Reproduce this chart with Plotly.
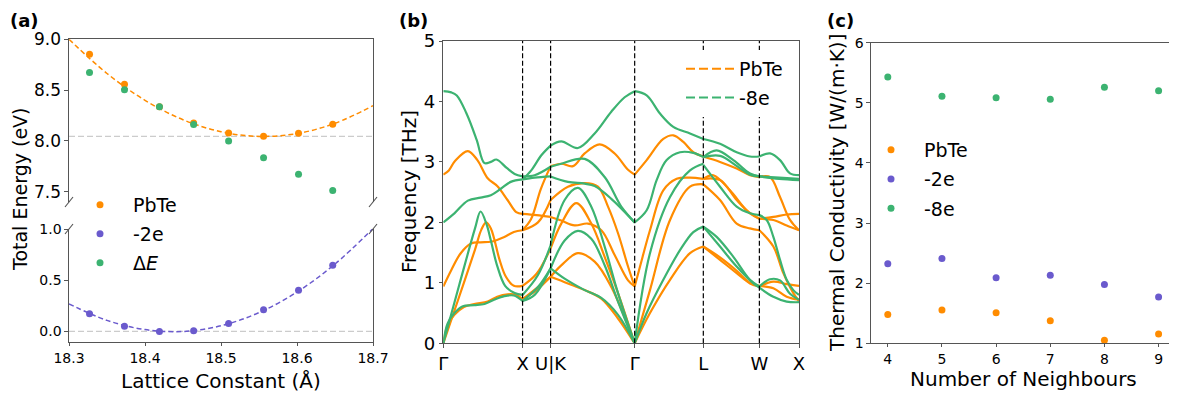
import plotly.graph_objects as go

# page is 1177x396; the browser body keeps its default 8px margin
PAGE_W, PAGE_H, BODY = 1177, 396, 8
W, H = PAGE_W - BODY, PAGE_H - BODY
ORANGE = "#ff8c00"
PURPLE = "#6a5acd"
GREEN = "#3cb371"
SPINE = "#555555"
FONT = "DejaVu Sans"

# ---------------- Panel (a): total energy vs lattice constant ----------------
LATTICE = [18.327, 18.373, 18.419, 18.464, 18.510, 18.556, 18.602, 18.647]
E_PBTE = [8.852, 8.559, 8.336, 8.178, 8.079, 8.046, 8.076, 8.164]
E_DELTA = [8.674, 8.503, 8.336, 8.161, 8.000, 7.836, 7.674, 7.513]
E_2E = [0.173, 0.052, 0.000, 0.007, 0.078, 0.212, 0.402, 0.647]
FIT_X = [18.30, 18.35, 18.40, 18.45, 18.50, 18.55, 18.60, 18.65, 18.70]
FIT_PBTE = [9.000, 8.664, 8.400, 8.209, 8.091, 8.045, 8.073, 8.174, 8.347]
FIT_2E = [0.269, 0.108, 0.018, 0.000, 0.056, 0.184, 0.385, 0.658, 1.004]
E_MIN_PBTE = 8.045
E_MIN_2E = 0.0

# ---------------- Panel (b): phonon band structure ----------------
HS_LABELS = ["Γ", "X", "U|K", "Γ", "L", "W", "X"]
HS_K = [0.0, 1.0, 1.3536, 2.4142, 3.2802, 3.9873, 4.4873]
SEGMENTS = [(0, 1), (1, 2), (2, 3), (3, 4), (4, 5), (5, 6)]

# each segment: list of bands; each band: (fraction along segment, THz)
BANDS_PBTE = [
    [  # Γ-X
        [(0, 2.79), (0.07, 2.86), (0.15, 3.02), (0.31, 3.18), (0.43, 3.03), (0.56, 2.73), (0.68, 2.60), (0.81, 2.37), (0.92, 2.17), (1, 2.14)],
        [(0, 0.94), (0.1, 1.21), (0.22, 1.49), (0.35, 1.65), (0.47, 1.67), (0.6, 1.68), (0.77, 1.76), (0.89, 1.84), (1, 1.87)],
        [(0, 0.0), (0.2, 0.77), (0.4, 1.55), (0.48, 1.88), (0.54, 2.0), (0.6, 1.9), (0.71, 1.38), (0.79, 1.10), (0.89, 0.95), (1, 0.95)],
        [(0, 0.0), (0.055, 0.30), (0.14, 0.47), (0.26, 0.60), (0.39, 0.65), (0.56, 0.69), (0.68, 0.77), (0.81, 0.81), (0.92, 0.80), (1, 0.73)],
    ],
    [  # X-U
        [(0, 2.14), (0.5, 2.12), (1, 2.09)],
        [(0, 1.87), (0.3, 2.05), (0.65, 2.55), (1, 2.93)],
        [(0, 1.87), (0.55, 2.0), (1, 2.37)],
        [(0, 0.95), (0.5, 1.15), (1, 1.57)],
        [(0, 0.73), (0.5, 0.88), (1, 1.10)],
        [(0, 0.73), (0.55, 0.93), (1, 1.10)],
    ],
    [  # K-Γ
        [(0, 2.93), (0.127, 2.97), (0.266, 2.93), (0.405, 3.14), (0.583, 3.29), (0.762, 3.14), (0.921, 2.87), (1, 2.79)],
        [(0, 2.09), (0.127, 2.03), (0.286, 1.95), (0.444, 1.98), (0.603, 1.87), (0.762, 1.46), (0.921, 1.04), (1, 0.94)],
        [(0, 2.37), (0.206, 2.59), (0.405, 2.65), (0.563, 2.59), (0.683, 2.26), (0.802, 1.82), (0.921, 1.27), (1, 0.94)],
        [(0, 1.57), (0.127, 1.98), (0.306, 2.32), (0.484, 1.98), (0.643, 1.43), (0.802, 0.83), (1, 0.0)],
        [(0, 1.10), (0.127, 1.29), (0.325, 1.49), (0.524, 1.35), (0.722, 0.93), (1, 0.0)],
        [(0, 1.10), (0.206, 0.99), (0.405, 0.88), (0.603, 0.74), (0.802, 0.41), (1, 0.0)],
    ],
    [  # Γ-L
        [(0, 2.79), (0.175, 3.03), (0.417, 3.38), (0.563, 3.44), (0.709, 3.33), (0.854, 3.16), (1, 3.09)],
        [(0, 0.94), (0.078, 1.27), (0.223, 1.87), (0.417, 2.53), (0.612, 2.72), (0.806, 2.74), (1, 2.72)],
        [(0, 0.0), (0.223, 0.88), (0.515, 2.04), (0.806, 2.59), (1, 2.63)],
        [(0, 0.0), (0.223, 0.50), (0.515, 1.05), (0.806, 1.49), (1, 1.60)],
    ],
    [  # L-W
        [(0, 3.09), (0.298, 3.00), (0.595, 2.89), (0.833, 2.78), (1, 2.75)],
        [(0, 2.72), (0.179, 2.78), (0.476, 2.53), (0.774, 2.20), (1, 2.06)],
        [(0, 2.72), (0.298, 2.70), (0.595, 2.37), (0.833, 2.15), (1, 2.06)],
        [(0, 2.63), (0.298, 2.37), (0.595, 1.98), (0.833, 1.90), (1, 1.87)],
        [(0, 1.60), (0.298, 1.38), (0.595, 1.16), (0.833, 0.99), (1, 0.94)],
        [(0, 1.60), (0.298, 1.42), (0.595, 1.20), (0.833, 1.00), (1, 0.95)],
    ],
    [  # W-X
        [(0, 2.75), (0.269, 2.75), (0.521, 2.42), (0.773, 2.04), (1, 1.87)],
        [(0, 2.06), (0.353, 2.09), (0.689, 2.13), (1, 2.14)],
        [(0, 2.06), (0.353, 2.04), (0.689, 1.95), (1, 1.87)],
        [(0, 1.87), (0.353, 1.60), (0.605, 1.16), (0.857, 0.83), (1, 0.70)],
        [(0, 0.94), (0.353, 1.02), (0.689, 0.98), (1, 0.95)],
        [(0, 0.95), (0.353, 0.91), (0.689, 0.77), (1, 0.72)],
    ],
]

BANDS_8E = [
    [  # Γ-X
        [(0, 4.17), (0.1, 4.15), (0.17, 4.10), (0.29, 3.81), (0.42, 3.37), (0.52, 2.98), (0.6, 3.00), (0.67, 3.04), (0.8, 2.90), (0.9, 2.80), (1, 2.76)],
        [(0, 2.00), (0.14, 2.15), (0.31, 2.36), (0.47, 2.41), (0.6, 2.45), (0.73, 2.56), (0.85, 2.67), (1, 2.71)],
        [(0, 0.0), (0.2, 0.96), (0.4, 1.90), (0.47, 2.18), (0.545, 1.97), (0.6, 1.70), (0.68, 1.28), (0.78, 0.95), (0.9, 0.83), (1, 0.80)],
        [(0, 0.0), (0.055, 0.33), (0.14, 0.50), (0.24, 0.61), (0.39, 0.63), (0.52, 0.65), (0.64, 0.72), (0.77, 0.78), (0.89, 0.79), (1, 0.70)],
    ],
    [  # X-U
        [(0, 2.71), (0.31, 2.86), (0.67, 3.11), (1, 3.27)],
        [(0, 2.76), (0.43, 2.78), (1, 2.92)],
        [(0, 2.71), (0.43, 2.74), (1, 2.76)],
        [(0, 0.80), (0.55, 1.13), (1, 1.62)],
        [(0, 0.70), (0.43, 0.80), (1, 1.24)],
        [(0, 0.70), (0.55, 0.93), (1, 1.24)],
    ],
    [  # K-Γ
        [(0, 3.27), (0.127, 3.34), (0.325, 3.23), (0.524, 3.47), (0.722, 3.83), (0.881, 4.07), (1, 4.17)],
        [(0, 2.92), (0.127, 2.97), (0.405, 3.05), (0.643, 2.75), (0.841, 2.26), (1, 2.00)],
        [(0, 2.76), (0.206, 2.67), (0.405, 2.64), (0.524, 2.60), (0.722, 2.39), (1, 2.00)],
        [(0, 1.62), (0.167, 2.37), (0.325, 2.57), (0.484, 2.26), (0.643, 1.60), (0.802, 0.83), (1, 0.0)],
        [(0, 1.24), (0.167, 1.70), (0.325, 1.86), (0.484, 1.73), (0.643, 1.29), (0.802, 0.69), (1, 0.0)],
        [(0, 1.24), (0.167, 1.07), (0.405, 0.88), (0.603, 0.75), (0.802, 0.47), (1, 0.0)],
    ],
    [  # Γ-L
        [(0, 4.17), (0.175, 4.10), (0.369, 3.80), (0.563, 3.58), (0.806, 3.47), (1, 3.38)],
        [(0, 2.00), (0.175, 2.20), (0.32, 2.70), (0.466, 3.03), (0.66, 3.16), (0.854, 3.15), (1, 3.08)],
        [(0, 0.0), (0.223, 1.49), (0.515, 2.42), (0.806, 2.86), (1, 2.97)],
        [(0, 0.0), (0.175, 0.50), (0.417, 1.05), (0.66, 1.54), (0.854, 1.84), (1, 1.93)],
    ],
    [  # L-W
        [(0, 3.38), (0.298, 3.30), (0.595, 3.16), (0.833, 3.09), (1, 3.09)],
        [(0, 3.08), (0.238, 3.19), (0.536, 3.03), (0.833, 2.81), (1, 2.76)],
        [(0, 3.08), (0.3, 3.10), (0.6, 2.93), (0.833, 2.79), (1, 2.76)],
        [(0, 2.95), (0.298, 2.59), (0.595, 2.26), (0.833, 2.15), (1, 2.12)],
        [(0, 1.93), (0.238, 1.76), (0.536, 1.43), (0.833, 1.05), (1, 0.94)],
        [(0, 1.93), (0.298, 1.60), (0.595, 1.27), (0.893, 0.99), (1, 0.92)],
    ],
    [  # W-X
        [(0, 3.09), (0.269, 3.14), (0.521, 3.03), (0.773, 2.81), (1, 2.78)],
        [(0, 2.76), (0.5, 2.74), (1, 2.72)],
        [(0, 2.76), (0.5, 2.72), (1, 2.70)],
        [(0, 2.12), (0.185, 2.04), (0.353, 1.76), (0.521, 1.38), (0.689, 1.05), (0.857, 0.88), (1, 0.80)],
        [(0, 0.94), (0.269, 1.06), (0.521, 1.04), (0.773, 0.82), (1, 0.72)],
        [(0, 0.92), (0.353, 0.77), (0.689, 0.69), (1, 0.68)],
    ],
]

# ---------------- Panel (c): thermal conductivity ----------------
NEIGHBOURS = [4, 5, 6, 7, 8, 9]
KAPPA_PBTE = [1.48, 1.555, 1.51, 1.377, 1.05, 1.155]
KAPPA_2E = [2.325, 2.41, 2.09, 2.13, 1.98, 1.77]
KAPPA_8E = [5.43, 5.11, 5.085, 5.06, 5.26, 5.20]


def band_xy(bands):
    xs, ys = [], []
    for (a, b), seg in zip(SEGMENTS, bands):
        k0, k1 = HS_K[a], HS_K[b]
        for band in seg:
            for t, f in band:
                xs.append(k0 + t * (k1 - k0))
                ys.append(f)
            xs.append(None)
            ys.append(None)
    return xs, ys


fig = go.Figure()
MS = 7

# ---- (a) top ----
fig.add_trace(go.Scatter(x=FIT_X, y=FIT_PBTE, mode="lines", line=dict(color=ORANGE, width=1.5, dash="5px,3px", shape="spline"),
                         xaxis="x2", yaxis="y2", showlegend=False, hoverinfo="skip"))
fig.add_trace(go.Scatter(x=LATTICE, y=E_PBTE, mode="markers", marker=dict(color=ORANGE, size=MS), name="PbTe",
                         xaxis="x2", yaxis="y2", legend="legend", legendgroup="a1"))
fig.add_trace(go.Scatter(x=LATTICE, y=E_DELTA, mode="markers", marker=dict(color=GREEN, size=MS), name="Δ<i>E</i>",
                         xaxis="x2", yaxis="y2", showlegend=False))
# ---- (a) bottom ----
fig.add_trace(go.Scatter(x=FIT_X, y=FIT_2E, mode="lines", line=dict(color=PURPLE, width=1.5, dash="5px,3px", shape="spline"),
                         xaxis="x", yaxis="y", showlegend=False, hoverinfo="skip"))
fig.add_trace(go.Scatter(x=LATTICE, y=E_2E, mode="markers", marker=dict(color=PURPLE, size=MS), name="-2e",
                         xaxis="x", yaxis="y", legend="legend", legendgroup="a2"))
fig.add_trace(go.Scatter(x=[None], y=[None], mode="markers", marker=dict(color=GREEN, size=MS), name="Δ<i>E</i>",
                         xaxis="x", yaxis="y", legend="legend", legendgroup="a3"))

# ---- (b) ----
for bands, col in ((BANDS_PBTE, ORANGE), (BANDS_8E, GREEN)):
    bx, by = band_xy(bands)
    fig.add_trace(go.Scatter(x=bx, y=by, mode="lines", line=dict(color=col, width=2.2, shape="spline", smoothing=1.0),
                             connectgaps=False, xaxis="x3", yaxis="y3", showlegend=False, hoverinfo="skip"))
fig.add_trace(go.Scatter(x=[None], y=[None], mode="lines", line=dict(color=ORANGE, width=2, dash="9px,4px"), name="PbTe",
                         xaxis="x3", yaxis="y3", legend="legend2", legendgroup="b1"))
fig.add_trace(go.Scatter(x=[None], y=[None], mode="lines", line=dict(color=GREEN, width=2, dash="9px,4px"), name="-8e",
                         xaxis="x3", yaxis="y3", legend="legend2", legendgroup="b2"))

# ---- (c) ----
for vals, col, nm, g in ((KAPPA_PBTE, ORANGE, "PbTe", "c1"), (KAPPA_2E, PURPLE, "-2e", "c2"), (KAPPA_8E, GREEN, "-8e", "c3")):
    fig.add_trace(go.Scatter(x=NEIGHBOURS, y=vals, mode="markers", marker=dict(color=col, size=MS), name=nm,
                             xaxis="x4", yaxis="y4", legend="legend3", legendgroup=g))

# page-pixel -> paper fraction
px = lambda v: (v - BODY) / W
py = lambda v: 1 - (v - BODY) / H

common_ax = dict(showgrid=False, zeroline=False, showline=True, linecolor=SPINE, linewidth=1.2,
                 ticks="outside", ticklen=3.5, tickwidth=1.2, tickcolor=SPINE, automargin=False,
                 tickfont=dict(family=FONT, size=14, color="black"))

A_X = [px(69), px(373)]
fig.update_layout(
    width=W, height=H, margin=dict(l=0, r=0, t=0, b=0, pad=0, autoexpand=False),
    paper_bgcolor="white", plot_bgcolor="white",
    font=dict(family=FONT, color="black"),
    xaxis=dict(common_ax, domain=A_X, anchor="y", range=[18.3, 18.7], tickvals=[18.3, 18.4, 18.5, 18.6, 18.7],
               tickformat=".1f"),
    yaxis=dict(common_ax, domain=[py(341.7), py(229)], anchor="x", range=[-0.1, 1.0], tickvals=[0, 0.5, 1.0],
               tickformat=".1f", mirror=True),
    xaxis2=dict(common_ax, domain=A_X, anchor="y2", side="top", range=[18.3, 18.7], ticks="", showticklabels=False),
    yaxis2=dict(common_ax, domain=[py(202), py(39.3)], anchor="x2", range=[7.4, 9.0], tickvals=[7.5, 8.0, 8.5, 9.0],
                tickformat=".1f", mirror=True, tickfont=dict(family=FONT, size=17, color="black")),
    xaxis3=dict(common_ax, domain=[px(443.3), px(799)], anchor="y3", range=[HS_K[0], HS_K[-1]], tickvals=HS_K,
                ticktext=HS_LABELS, mirror=True, tickfont=dict(family=FONT, size=18, color="black")),
    yaxis3=dict(common_ax, domain=[py(343.3), py(41)], anchor="x3", range=[0, 5], dtick=1, mirror=True,
                tickfont=dict(family=FONT, size=18, color="black")),
    xaxis4=dict(common_ax, domain=[px(871), px(1174.3)], anchor="y4", range=[3.69, 9.29], dtick=1, mirror=True,
                ticklen=3),
    yaxis4=dict(common_ax, domain=[py(343.3), py(42.7)], anchor="x4", range=[1, 6], dtick=1, mirror=True),
    legend=dict(x=px(67), y=py(186), xanchor="left", yanchor="top", font=dict(family=FONT, size=19),
                bgcolor="rgba(0,0,0,0)", tracegroupgap=1.2, itemwidth=56),
    legend2=dict(x=px(681), y=py(50), xanchor="left", yanchor="top", font=dict(family=FONT, size=19),
                 bgcolor="white", tracegroupgap=1, itemwidth=48),
    legend3=dict(x=px(858), y=py(131), xanchor="left", yanchor="top", font=dict(family=FONT, size=19),
                 bgcolor="rgba(0,0,0,0)", tracegroupgap=1.5, itemwidth=56),
)

shapes = []
# grey reference lines
shapes.append(dict(type="line", xref="x2 domain", yref="y2", x0=0, x1=1, y0=E_MIN_PBTE, y1=E_MIN_PBTE,
                   line=dict(color="#cccccc", width=1.2, dash="6px,3px"), layer="below"))
shapes.append(dict(type="line", xref="x domain", yref="y", x0=0, x1=1, y0=E_MIN_2E, y1=E_MIN_2E,
                   line=dict(color="#cccccc", width=1.2, dash="6px,3px"), layer="below"))
# axis break marks
for xx in (69, 373):
    for yy in (202, 229):
        shapes.append(dict(type="line", xref="paper", yref="paper", x0=px(xx - 4), x1=px(xx + 4),
                           y0=py(yy + 5), y1=py(yy - 5), line=dict(color=SPINE, width=1.2)))
# high-symmetry vertical lines
for k in HS_K[1:-1]:
    shapes.append(dict(type="line", xref="x3", yref="y3 domain", x0=k, x1=k, y0=0, y1=1,
                       line=dict(color="black", width=1.2, dash="5px,2.5px"), layer="above"))
fig.update_layout(shapes=shapes)

ann = []
for lbl, xx in (("(a)", 8), ("(b)", 397), ("(c)", 825)):
    ann.append(dict(text=f"<b>{lbl}</b>", x=px(xx), y=py(8), xref="paper", yref="paper", xanchor="left",
                    yanchor="top", showarrow=False, font=dict(family=FONT, size=18)))
titles = [
    ("Total Energy (eV)", 20, 190, -90, 19),
    ("Lattice Constant (Å)", 221, 381, 0, 20),
    ("Frequency [THz]", 409, 192, -90, 20),
    ("Thermal Conductivity [W/(m·K)]", 837, 193, -90, 20),
    ("Number of Neighbours", 1023, 379, 0, 20),
]
for txt, xx, yy, ang, fs in titles:
    ann.append(dict(text=txt, x=px(xx), y=py(yy), xref="paper", yref="paper", textangle=ang,
                    xanchor="center", yanchor="middle", showarrow=False, font=dict(family=FONT, size=fs)))
fig.update_layout(annotations=ann)

fig.write_html("out.html")
